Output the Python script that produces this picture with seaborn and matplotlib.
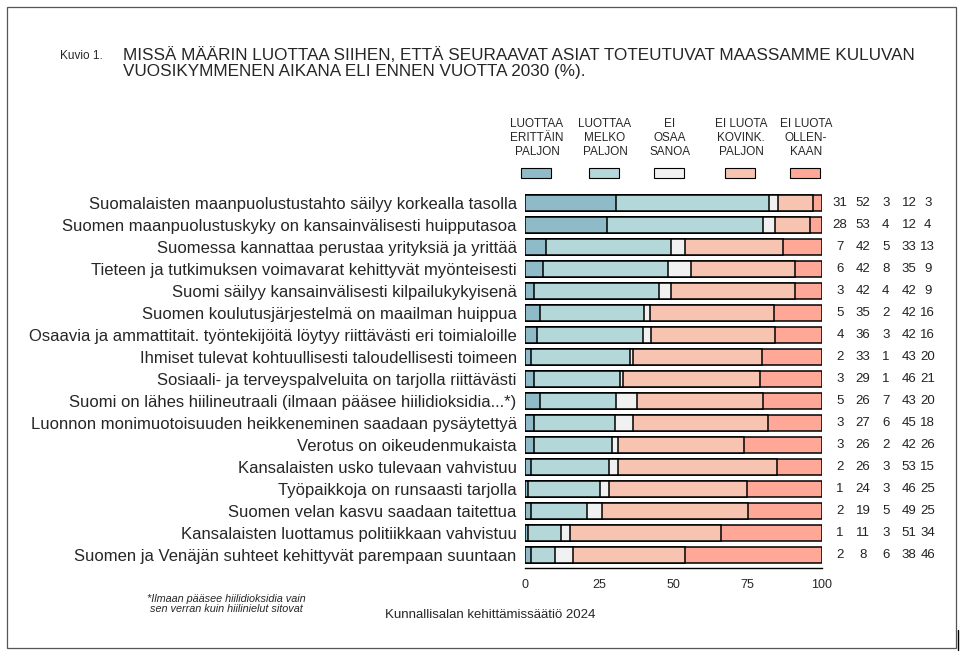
import matplotlib
matplotlib.use("Agg")
import matplotlib.pyplot as plt
import seaborn as sns
import pandas as pd
import numpy as np
from matplotlib.patches import Rectangle
from matplotlib.lines import Line2D

categories = [
    "Suomalaisten maanpuolustustahto säilyy korkealla tasolla",
    "Suomen maanpuolustuskyky on kansainvälisesti huipputasoa",
    "Suomessa kannattaa perustaa yrityksiä ja yrittää",
    "Tieteen ja tutkimuksen voimavarat kehittyvät myönteisesti",
    "Suomi säilyy kansainvälisesti kilpailukykyisenä",
    "Suomen koulutusjärjestelmä on maailman huippua",
    "Osaavia ja ammattitait. työntekijöitä löytyy riittävästi eri toimialoille",
    "Ihmiset tulevat kohtuullisesti taloudellisesti toimeen",
    "Sosiaali- ja terveyspalveluita on tarjolla riittävästi",
    "Suomi on lähes hiilineutraali (ilmaan pääsee hiilidioksidia...*)",
    "Luonnon monimuotoisuuden heikkeneminen saadaan pysäytettyä",
    "Verotus on oikeudenmukaista",
    "Kansalaisten usko tulevaan vahvistuu",
    "Työpaikkoja on runsaasti tarjolla",
    "Suomen velan kasvu saadaan taitettua",
    "Kansalaisten luottamus politiikkaan vahvistuu",
    "Suomen ja Venäjän suhteet kehittyvät parempaan suuntaan",
]
series_names = ["LUOTTAA\nERITTÄIN\nPALJON", "LUOTTAA\nMELKO\nPALJON", "EI\nOSAA\nSANOA",
                "EI LUOTA\nKOVINK.\nPALJON", "EI LUOTA\nOLLEN-\nKAAN"]
luottaa_erittain = [31, 28, 7, 6, 3, 5, 4, 2, 3, 5, 3, 3, 2, 1, 2, 1, 2]
luottaa_melko    = [52, 53, 42, 42, 42, 35, 36, 33, 29, 26, 27, 26, 26, 24, 19, 11, 8]
ei_osaa          = [3, 4, 5, 8, 4, 2, 3, 1, 1, 7, 6, 2, 3, 3, 5, 3, 6]
ei_kovin         = [12, 12, 33, 35, 42, 42, 42, 43, 46, 43, 45, 42, 53, 46, 49, 51, 38]
ei_ollenkaan     = [3, 4, 13, 9, 9, 16, 16, 20, 21, 20, 18, 26, 15, 25, 25, 34, 46]
colors = ["#8FBBC8", "#B4D7DA", "#F1F1F1", "#F8C4B2", "#FFA898"]

series = [luottaa_erittain, luottaa_melko, ei_osaa, ei_kovin, ei_ollenkaan]

arr = np.array(series, dtype=float)
shares = arr / arr.sum(axis=0) * 100   # rounded figures scaled to a full 100 % bar
cum = np.cumsum(shares, axis=0)
df = pd.DataFrame({"cat": categories})
for i in range(5):
    df[f"c{i}"] = cum[i]

W, H = 963, 655
fig = plt.figure(figsize=(W / 100, H / 100), dpi=100)
sns.set_style("white")
plt.rcParams["font.family"] = ["Liberation Sans", "DejaVu Sans"]

ax_left, ax_right = 525 / W, 822 / W
ax_bottom, ax_top = 1 - 568 / H, 1 - 192 / H
ax = fig.add_axes([ax_left, ax_bottom, ax_right - ax_left, ax_top - ax_bottom])

for i in reversed(range(5)):
    sns.barplot(data=df, y="cat", x=f"c{i}", order=categories, orient="h",
                color=colors[i], saturation=1, edgecolor="black", linewidth=1.1,
                width=0.73, ax=ax)

ax.set_xlim(0, 100)
ax.set_ylim(16.59, -0.5)
ax.set_xlabel("")
ax.set_ylabel("")
ax.set_xticks([0, 25, 50, 75, 100])
ax.set_xticklabels(["0", "25", "50", "75", "100"], fontsize=9)
ax.tick_params(axis="x", direction="out", length=5, width=1, color="black", pad=3)
ax.tick_params(axis="y", length=0, pad=6, labelsize=12)
for sp in ["left", "right", "top"]:
    ax.spines[sp].set_visible(False)
ax.spines["bottom"].set_color("black")
ax.spines["bottom"].set_linewidth(1)
ax.grid(False)

# value columns
col_x = [106.1, 113.8, 121.5, 129.3, 135.6]
for r in range(len(categories)):
    for c in range(5):
        ax.text(col_x[c], r, str(series[c][r]), ha="center", va="center",
                fontsize=9.5, color="#222222", clip_on=False)

# legend
leg_cx = [537, 605, 670, 741, 806]
for i in range(5):
    fig.text(leg_cx[i] / W, 1 - 138 / H, series_names[i], ha="center", va="center",
             fontsize=8.5, linespacing=1.25)
    fig.patches.append(Rectangle(((leg_cx[i] - 16) / W, 1 - 178 / H), 30 / W, 10 / H,
                                 transform=fig.transFigure, facecolor=colors[i],
                                 edgecolor="black", linewidth=0.8))

# title
fig.text(60 / W, 1 - 56 / H, "Kuvio 1.", ha="left", va="center", fontsize=8.5)
fig.text(123 / W, 1 - 63 / H,
         "MISSÄ MÄÄRIN LUOTTAA SIIHEN, ETTÄ SEURAAVAT ASIAT TOTEUTUVAT MAASSAMME KULUVAN\n"
         "VUOSIKYMMENEN AIKANA ELI ENNEN VUOTTA 2030 (%).",
         ha="left", va="center", fontsize=12.3, linespacing=1.15)

# footnote and source
fig.text(226 / W, 1 - 604 / H,
         "*Ilmaan pääsee hiilidioksidia vain\nsen verran kuin hiilinielut sitovat",
         ha="center", va="center", fontsize=7.8, style="italic", linespacing=1.05)
fig.text(490 / W, 1 - 615 / H, "Kunnallisalan kehittämissäätiö 2024",
         ha="center", va="center", fontsize=9.5)

# frame
fig.patches.append(Rectangle((7 / W, 1 - 648 / H), 949 / W, 641 / H,
                             transform=fig.transFigure, facecolor="none",
                             edgecolor="#555555", linewidth=0.9))
fig.lines.append(Line2D([958 / W, 958 / W], [1 - 650 / H, 1 - 630 / H],
                        transform=fig.transFigure, color="black", linewidth=1))

fig.savefig("out.png", dpi=100)
